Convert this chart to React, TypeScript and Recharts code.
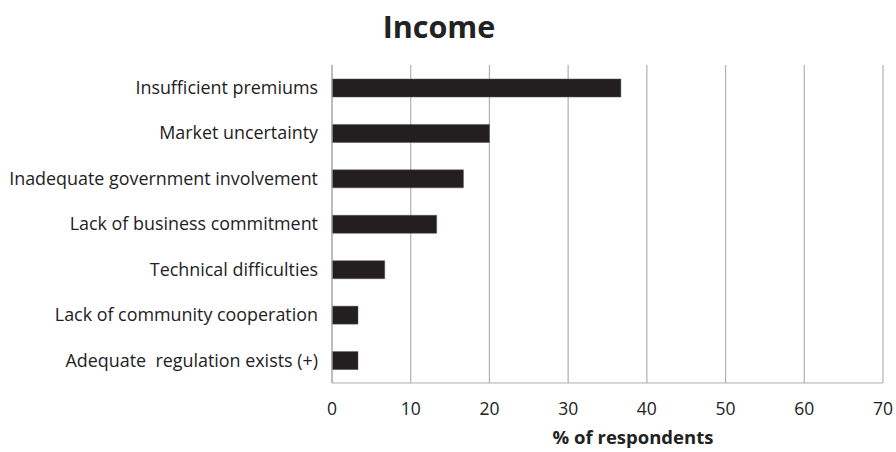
import React from 'react';
import { BarChart, Bar, XAxis, YAxis, CartesianGrid } from 'recharts';

const categories = [
  'Insufficient premiums',
  'Market uncertainty',
  'Inadequate government involvement',
  'Lack of business commitment',
  'Technical difficulties',
  'Lack of community cooperation',
  'Adequate  regulation exists (+)',
];
const values = [36.7, 20, 16.7, 13.3, 6.7, 3.3, 3.3];
const xTicks = [0, 10, 20, 30, 40, 50, 60, 70];

const data = categories.map((c, i) => ({ name: c, value: values[i] }));

const FONT = '"Open Sans", sans-serif';

export default function App() {
  return (
    <div style={{ position: 'absolute', left: 0, top: 0, width: 896, height: 452, background: '#fff', fontFamily: FONT }}>
      <div style={{ position: 'absolute', left: 0, width: 878, top: 6, textAlign: 'center', fontSize: 30.5, fontWeight: 700, color: '#222', lineHeight: '40px' }}>
        Income
      </div>
      <BarChart
        width={896}
        height={452}
        data={data}
        layout="vertical"
        margin={{ top: 65, right: 13, bottom: 0, left: 0 }}
        barSize={18}
      >
        <CartesianGrid horizontal={false} stroke="#b0b0b0" strokeWidth={1.2} />
        <XAxis
          type="number"
          domain={[0, 70]}
          ticks={xTicks}
          interval={0}
          tickLine={false}
          axisLine={{ stroke: '#b0b0b0', strokeWidth: 1.2 }}
          tick={{ fontSize: 17.5, fill: '#222', fontFamily: FONT }}
          tickMargin={14}
          height={69}
        />
        <YAxis
          type="category"
          dataKey="name"
          width={332}
          tickLine={false}
          axisLine={{ stroke: '#b0b0b0', strokeWidth: 1.2 }}
          tick={{ fontSize: 17.9, fill: '#222', fontFamily: FONT }}
          tickFormatter={(v: string) => v.replace(/  /g, ' \u00A0')}
          tickMargin={8}
          interval={0}
        />
        <Bar dataKey="value" fill="#231f20" stroke="#555" strokeWidth={0.5} isAnimationActive={false} />
      </BarChart>
      <div style={{ position: 'absolute', left: 433, width: 400, top: 424, textAlign: 'center', fontSize: 18.5, fontWeight: 700, color: '#222', lineHeight: '26px' }}>
        % of respondents
      </div>
    </div>
  );
}
